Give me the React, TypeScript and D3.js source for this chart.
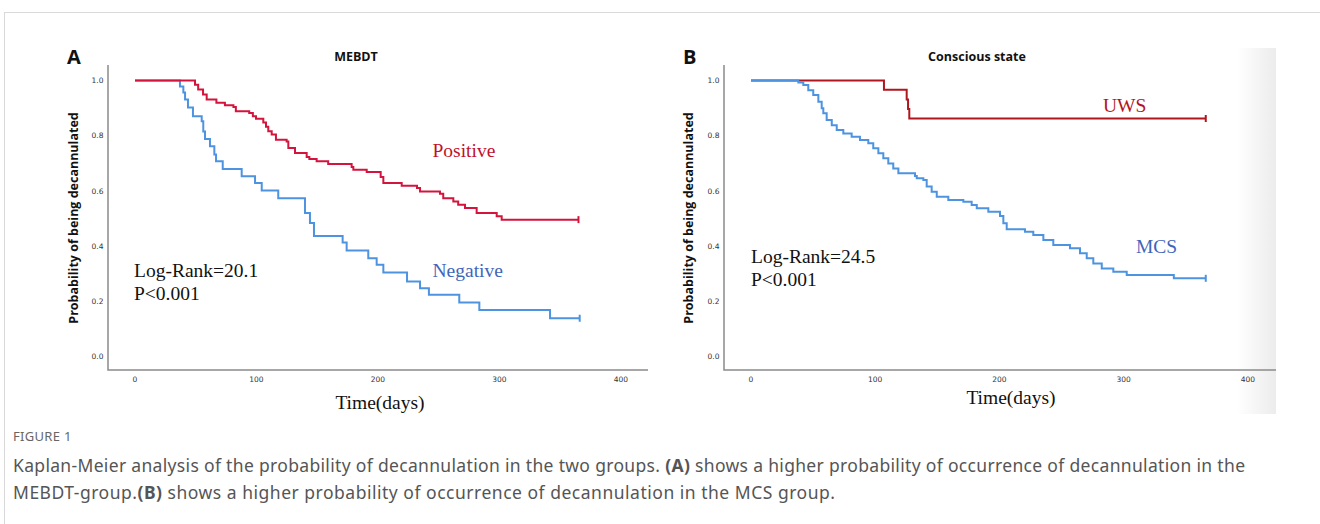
import React from "react";
import * as d3 from "d3";

// ---- data (days, survival probability) ----
const positiveA: [number, number][] = [
  [0, 1], [49.4, 0.985], [52, 0.967], [56, 0.949], [59, 0.931], [67, 0.919], [74, 0.91], [81, 0.904],
  [83, 0.888], [94, 0.882], [97, 0.87], [99.6, 0.861], [105.6, 0.848], [107.8, 0.832], [109.7, 0.816],
  [112.5, 0.804], [116, 0.785], [124.8, 0.779], [126.2, 0.755], [131.7, 0.737], [141.3, 0.722],
  [143.5, 0.715], [149.5, 0.707], [159, 0.697], [178.3, 0.686], [179.7, 0.676], [190.7, 0.668],
  [202.2, 0.65], [204.4, 0.628], [219.5, 0.618], [232.1, 0.61], [234.6, 0.597], [251, 0.589],
  [253.7, 0.573], [262, 0.561], [266, 0.549], [271.6, 0.537], [281.2, 0.519], [297.7, 0.507],
  [301.8, 0.495], [365, 0.495],
];
const negativeA: [number, number][] = [
  [0, 1], [37, 0.978], [39.8, 0.956], [41.2, 0.931], [43.6, 0.902], [47.7, 0.87], [54.9, 0.852],
  [56.2, 0.815], [57.6, 0.788], [61.7, 0.761], [65.3, 0.731], [66.7, 0.707], [72.2, 0.679],
  [87.8, 0.652], [98.8, 0.628], [104.3, 0.601], [117.9, 0.573], [139.9, 0.519], [144, 0.483],
  [147.3, 0.436], [170.9, 0.412], [174.2, 0.383], [192, 0.355], [198.9, 0.331], [204.4, 0.303],
  [223.9, 0.27], [234.6, 0.246], [241.9, 0.222], [266.9, 0.194], [283.4, 0.167], [341.6, 0.137],
  [366, 0.137],
];
const uwsB: [number, number][] = [
  [0, 1], [107, 0.966], [125.3, 0.931], [126.4, 0.897], [127.4, 0.862], [366, 0.862],
];
const mcsB: [number, number][] = [
  [0, 1], [38.1, 0.993], [42.1, 0.984], [46.1, 0.965], [50.1, 0.947], [54.2, 0.923], [56.9, 0.899],
  [58.2, 0.881], [60.9, 0.857], [65, 0.838], [69, 0.82], [74.3, 0.808], [81, 0.796], [87.7, 0.784],
  [94.4, 0.772], [98.4, 0.754], [102.5, 0.736], [106.5, 0.718], [110.5, 0.699], [114.5, 0.681],
  [118.6, 0.663], [132, 0.653], [133.4, 0.645], [138.7, 0.639], [141.4, 0.615], [145.4, 0.596],
  [149.5, 0.578], [158.8, 0.566], [170.9, 0.56], [177.6, 0.548], [181.7, 0.536], [191, 0.524],
  [200.4, 0.508], [203.1, 0.482], [205.8, 0.46], [220.5, 0.451], [227.2, 0.439], [235.3, 0.421],
  [243.3, 0.403], [256.7, 0.391], [264.8, 0.373], [270.2, 0.355], [275.5, 0.336], [282.3, 0.318],
  [291.6, 0.306], [302.4, 0.294], [340.3, 0.282], [366, 0.282],
];

const xTicks = [0, 100, 200, 300, 400];
const yTicks = [0, 0.2, 0.4, 0.6, 0.8, 1.0];

const captionTitle = "FIGURE 1";

const RED_A = "#d3143d";
const RED_B = "#b0161e";
const BLUE = "#4d93e0";
const BLUE_TXT = "#3f66b9";
const SERIF = "'Liberation Serif', 'Times New Roman', serif";
const SANS = "'Open Sans', 'DejaVu Sans', sans-serif";

type Curve = { data: [number, number][]; color: string };

function Panel(props: {
  letter: string;
  title: string;
  titleX: number;
  x0: number;
  x400: number;
  axisX: number;
  axisEnd: number;
  labelX: number;
  curves: Curve[];
  stats: string[];
  statX: number;
  statY: number;
  labels: { text: string; x: number; y: number; color: string }[];
  timeX: number;
  timeY: number;
}) {
  const x = d3.scaleLinear().domain([0, 400]).range([props.x0, props.x400]);
  const y = d3.scaleLinear().domain([0, 1]).range([356, 80.5]);
  const line = d3
    .line<[number, number]>()
    .x((d) => x(d[0]))
    .y((d) => y(d[1]))
    .curve(d3.curveStepAfter);
  return (
    <g>
      <text x={props.axisX - 41} y={64} fontFamily={SANS} fontWeight={700} fontSize={20} fill="#111">
        {props.letter}
      </text>
      <text x={props.titleX} y={61} textAnchor="middle" fontFamily={SANS} fontWeight={700} fontSize={12.5} fill="#111">
        {props.title}
      </text>
      {/* axes */}
      <path
        d={`M${props.axisX},65V370H${props.axisEnd}`}
        fill="none"
        stroke="#8a8a8a"
        strokeWidth={1.5}
      />
      {yTicks.map((t) => (
        <text key={t} x={props.axisX - 4.5} y={y(t) + 2.8} textAnchor="end" fontFamily="'DejaVu Sans', sans-serif" fontSize={7.5} fill="#333">
          {t.toFixed(1)}
        </text>
      ))}
      {xTicks.map((t) => (
        <text key={t} x={x(t)} y={382} textAnchor="middle" fontFamily="'DejaVu Sans', sans-serif" fontSize={7.5} fill="#333">
          {t}
        </text>
      ))}
      <text
        transform={`translate(${props.labelX},218) rotate(-90)`}
        textAnchor="middle"
        fontFamily={SANS}
        fontWeight={700}
        fontSize={12.5}
        fill="#111"
      >
        Probability of being decannulated
      </text>
      <text x={props.timeX} y={props.timeY} textAnchor="middle" fontFamily={SERIF} fontSize={19.5} fill="#111">
        Time(days)
      </text>
      {props.curves.map((c, i) => {
        const last = c.data[c.data.length - 1];
        return (
          <g key={i}>
            <path d={line(c.data) || ""} fill="none" stroke={c.color} strokeWidth={2} />
            <path
              d={`M${x(last[0])},${y(last[1]) - 3.5}V${y(last[1]) + 3.5}`}
              stroke={c.color}
              strokeWidth={2}
            />
          </g>
        );
      })}
      {props.stats.map((s, i) => (
        <text key={s} x={props.statX} y={props.statY + i * 23} fontFamily={SERIF} fontSize={19.5} fill="#111">
          {s}
        </text>
      ))}
      {props.labels.map((l) => (
        <text key={l.text} x={l.x} y={l.y} fontFamily={SERIF} fontSize={19.5} fill={l.color}>
          {l.text}
        </text>
      ))}
    </g>
  );
}

export default function App() {
  return (
    <svg
      width={1320}
      height={524}
      viewBox="0 0 1320 524"
      style={{ position: "absolute", left: 0, top: 0, background: "#fff" }}
    >
      <defs>
        <linearGradient id="edge" x1="0" x2="1" y1="0" y2="0">
          <stop offset="0" stopColor="#ffffff" />
          <stop offset="1" stopColor="#ececec" />
        </linearGradient>
      </defs>
      <rect x={4.5} y={12.5} width={1330} height={530} fill="none" stroke="#d9d9d9" strokeWidth={1} />
      <rect x={1237} y={48} width={39} height={366} fill="url(#edge)" />
      <Panel
        letter="A"
        title="MEBDT"
        titleX={356}
        x0={135}
        x400={621}
        axisX={108}
        axisEnd={648}
        labelX={78}
        curves={[
          { data: negativeA, color: BLUE },
          { data: positiveA, color: RED_A },
        ]}
        stats={["Log-Rank=20.1", "P<0.001"]}
        statX={134}
        statY={277}
        labels={[
          { text: "Positive", x: 432.5, y: 157, color: "#c2102c" },
          { text: "Negative", x: 432.5, y: 277, color: BLUE_TXT },
        ]}
        timeX={380}
        timeY={409}
      />
      <Panel
        letter="B"
        title="Conscious state"
        titleX={977}
        x0={751}
        x400={1248}
        axisX={724}
        axisEnd={1276}
        labelX={693}
        curves={[
          { data: uwsB, color: RED_B },
          { data: mcsB, color: BLUE },
        ]}
        stats={["Log-Rank=24.5", "P<0.001"]}
        statX={751}
        statY={263}
        labels={[
          { text: "UWS", x: 1103, y: 112, color: "#b3141c" },
          { text: "MCS", x: 1136, y: 253, color: BLUE_TXT },
        ]}
        timeX={1011}
        timeY={404}
      />
      <text x={13} y={441} fontFamily="'Noto Sans', sans-serif" fontSize={13} fill="#666" letterSpacing={0.3}>
        {captionTitle}
      </text>
      <text x={13} y={472} fontFamily="'Noto Sans', sans-serif" fontSize={17.5} fill="#555" textLength={1232} lengthAdjust="spacing">
        Kaplan-Meier analysis of the probability of decannulation in the two groups. <tspan fontWeight={700}>(A)</tspan> shows a higher probability of occurrence of decannulation in the
      </text>
      <text x={13} y={499} fontFamily="'Noto Sans', sans-serif" fontSize={17.5} fill="#555" textLength={822} lengthAdjust="spacing">
        MEBDT-group.<tspan fontWeight={700}>(B)</tspan> shows a higher probability of occurrence of decannulation in the MCS group.
      </text>
    </svg>
  );
}
